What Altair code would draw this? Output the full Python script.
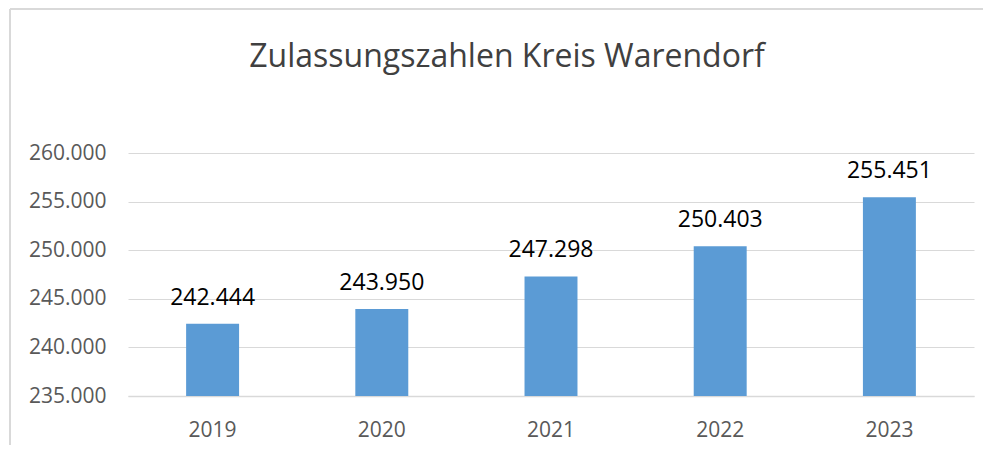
import altair as alt
import pandas as pd

years = ["2019", "2020", "2021", "2022", "2023"]
values = [242444, 243950, 247298, 250403, 255451]
labels = [f"{v:,}".replace(",", ".") for v in values]
y_ticks = [235000, 240000, 245000, 250000, 255000, 260000]
y_min, y_max = 235000, 260000

df = pd.DataFrame({"year": years, "value": values, "label": labels, "base": [y_min] * len(years)})

FONT = "Open Sans"
W, H = 846, 243

x_enc = alt.X("year:N", sort=years, title=None,
              scale=alt.Scale(paddingInner=0.687, paddingOuter=0.3435),
              axis=alt.Axis(labelAngle=0, labelFontSize=21, labelColor="#595959", labelFont=FONT,
                            ticks=False, domainColor="#d9d9d9", domainWidth=1.5, labelPadding=23))
y_enc = alt.Y("value:Q", title=None,
              scale=alt.Scale(domain=[y_min, y_max], zero=False, nice=False),
              axis=alt.Axis(values=y_ticks, labelFontSize=21, labelColor="#595959", labelFont=FONT,
                            ticks=False, domain=False, gridColor="#d9d9d9", gridWidth=1,
                            labelPadding=22,
                            labelExpr="replace(format(datum.value, ',.0f'), ',', '.')"))

base = alt.Chart(df)
bars = base.mark_bar(color="#5B9BD5").encode(x=x_enc, y=y_enc, y2="base:Q")
text = base.mark_text(baseline="alphabetic", dy=-19, fontSize=23, font=FONT, color="#000000").encode(
    x=alt.X("year:N", sort=years), y="value:Q", text="label:N")

border_left = alt.Chart(df).mark_rule(color="#d9d9d9", strokeWidth=1.5).encode(
    x=alt.value(-118), y=alt.value(-144), y2=alt.value(H + 60))
border_top = alt.Chart(df).mark_rule(color="#d9d9d9", strokeWidth=1.5).encode(
    x=alt.value(-118), x2=alt.value(W + 30), y=alt.value(-144))

chart = alt.layer(border_left, border_top, bars, text).properties(
    width=W, height=H,
    title=alt.Title("Zulassungszahlen Kreis Warendorf", fontSize=32, font=FONT, fontWeight="normal",
                    color="#404040", anchor="middle", baseline="alphabetic", dx=-44, offset=0, dy=91),
    padding={"left": 120, "top": 145, "right": 9, "bottom": 49},
    autosize=alt.AutoSizeParams(type="none"),
).configure(background="white").configure_view(stroke=None)

chart.save("out.html", embed_options={"renderer": "svg", "actions": False})
